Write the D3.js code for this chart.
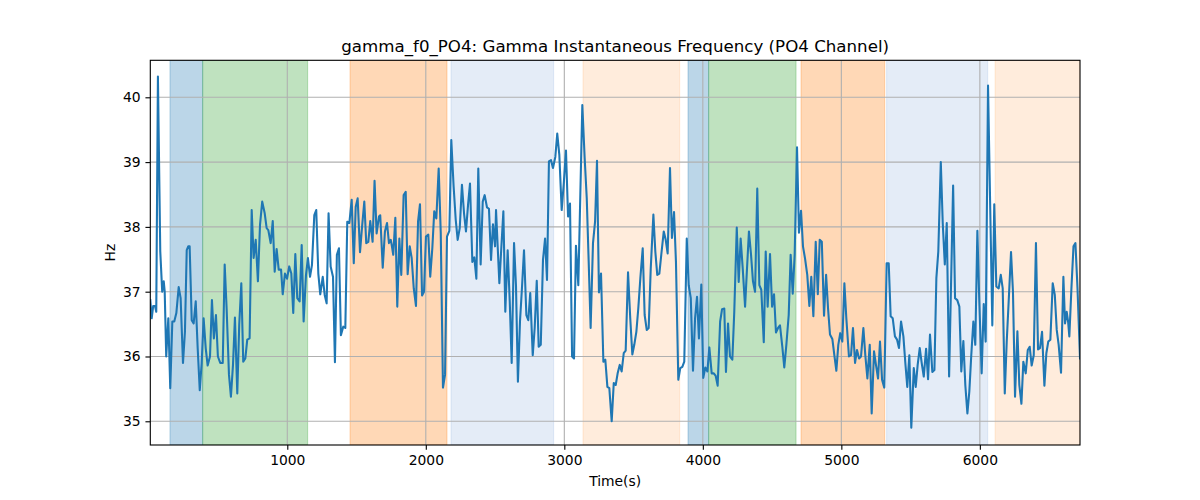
<!DOCTYPE html>
<html><head><meta charset="utf-8">
<script src="https://cdn.jsdelivr.net/npm/d3@7"></script>
<style>
body{margin:0;background:#fff;}
svg text{font-family:"DejaVu Sans",sans-serif;fill:#000;}
</style></head>
<body><svg id="c" width="1200" height="500"></svg>
<script>
const timeSec = [11,21,32,45,54,66,83,97,108,115,126,141,155,170,184,199,216,230,247,261,274,285,295,310,324,339,353,368,382,396,411,425,442,456,470,485,499,516,534,548,562,579,593,608,622,639,653,668,682,697,711,728,743,757,772,788,803,
819,837,851,863,880,895,909,923,938,955,967,983,998,1014,1029,1043,1058,1072,1089,1104,1118,1135,1149,1164,1178,1195,1209,1224,1238,1256,1270,1284,1298,1313,1330,1344,1358,1373,1387,1404,1419,1433,1448,1465,1480,1494,1508,1525,1539,1556,1570,1585,1599,1616,1630,1645,1662,
1671,1689,1705,1720,1734,1747,1754,1765,1780,1794,1809,1823,1840,1855,1869,1884,1898,1913,1929,1944,1958,1973,1987,2001,2018,2032,2047,2061,2076,2093,2108,2124,2139,2153,2170,2184,2201,2216,2230,2245,2261,2276,2290,2305,2319,2336,2350,2365,2379,2396,2411,2425,2442,2456,2471,2485,2500,
2507,2531,2545,2560,2574,2591,2606,2620,2637,2651,2665,2680,2694,2709,2726,2740,2754,2772,2786,2801,2815,2830,2846,2861,2875,2889,2904,2918,2935,2949,2964,2981,2996,3012,3027,3041,3056,3070,3084,3101,3130,3147,3162,3176,3190,3207,3222,3236,3250,3265,3282,3296,3311,3325,
3342,3357,3371,3385,3400,3414,3429,3443,3460,3476,3491,3505,3520,3534,3549,3566,3580,3595,3609,3624,3643,3657,3671,3686,3700,3718,3732,3746,3763,3777,3792,3806,3823,3837,3852,3866,3884,3898,3913,3929,3944,3958,3972,3989,4003,4018,4033,4047,4064,4079,4093,4107,4125,4139,4155,
4167,4182,4196,4213,4227,4245,4259,4273,4288,4305,4319,4333,4348,4362,4377,4393,4408,4422,4440,4454,4468,4485,4500,4514,4528,4543,4557,4574,4588,4603,4620,4634,4649,4663,4680,4694,4709,4723,4738,4754,4769,4783,4798,4815,4830,4844,4859,4875,4890,4904,4918,4935,4949,4964,4978,4992,
5007,5022,5036,5055,5070,5084,5099,5113,5128,5142,5159,5173,5188,5205,5219,5236,5250,5265,5279,5294,5310,5327,5342,5356,5371,5387,5402,5416,5431,5448,5462,5476,5491,5505,5523,5537,5551,5566,5580,5595,5612,5626,5640,5657,5672,5686,5700,5718,5732,5747,5761,5778,5807,5821,
5837,5852,5866,5881,5895,5910,5924,5938,5953,5967,5982,5996,6013,6028,6042,6059,6090,6104,6119,6136,6151,6165,6180,6194,6211,6225,6239,6254,6271,6285,6300,6314,6331,6346,6360,6374,6389,6405,6420,6434,6449,6466,6480,6494,6509,6526,6541,6555,6569,6586,6603,6615,6627,6637,6646,6661,6676,6690,6705,6723];

const gammaHz = [36.87,36.59,36.78,36.78,36.69,40.32,37.62,37.00,37.16,37.00,36.00,36.59,35.51,36.54,36.54,36.67,37.07,36.90,35.90,36.38,37.64,37.70,37.70,36.56,36.51,36.85,36.13,35.48,35.90,36.59,36.13,35.86,36.00,36.87,36.28,36.64,36.00,35.90,35.90,37.42,36.74,35.72,35.38,35.87,36.60,35.43,36.49,37.13,35.92,35.97,36.26,36.28,38.26,37.52,37.80,37.16,38.03,
38.39,38.21,37.98,37.95,37.75,38.09,37.31,37.66,37.34,37.34,36.96,37.28,37.20,37.39,37.28,36.67,37.58,36.90,36.85,37.72,36.54,37.26,37.52,37.23,37.41,38.18,38.26,37.28,36.96,37.23,36.95,36.82,38.21,37.39,37.23,35.91,37.57,37.67,36.33,36.46,36.44,38.08,38.06,38.42,37.44,38.31,38.44,37.61,37.98,38.39,37.75,37.77,38.09,37.77,38.71,37.90,38.16,
38.18,37.37,37.93,38.06,37.75,37.80,37.72,37.57,38.14,36.77,37.82,37.26,38.49,38.54,37.27,37.70,37.52,37.05,36.78,38.08,38.35,36.94,37.00,37.85,37.88,37.23,37.67,38.24,38.13,38.90,37.90,35.52,35.72,37.85,37.94,39.34,38.62,38.11,37.80,37.98,38.65,38.21,37.93,38.34,38.67,37.46,37.53,37.20,38.90,37.42,38.39,38.49,38.30,38.28,37.49,38.04,37.70,
38.26,37.13,37.67,38.24,36.69,37.64,36.85,35.90,37.75,37.10,35.61,36.54,37.05,37.64,36.64,36.56,36.98,36.02,36.44,37.17,36.15,36.18,37.49,37.82,37.18,39.01,39.03,38.91,39.08,39.44,39.11,38.26,38.67,39.18,38.16,38.36,36.00,35.97,37.71,37.10,39.88,39.06,38.44,37.46,36.44,37.75,38.08,39.02,36.99,37.28,35.92,35.95,35.53,35.51,
35.00,35.59,35.56,35.74,35.87,35.77,36.05,36.09,37.30,36.59,36.03,36.18,36.38,36.74,37.21,37.67,36.64,36.41,36.44,37.36,38.19,37.62,37.26,37.28,37.57,37.93,37.80,37.59,38.91,37.83,38.23,37.46,35.64,35.82,35.84,35.92,37.82,37.10,36.90,35.78,36.59,36.92,36.28,37.11,35.67,35.83,35.77,36.14,35.74,35.74,35.70,35.55,36.54,36.73,36.74,
35.76,36.51,36.00,35.95,36.69,37.99,37.15,37.82,37.36,36.77,37.36,37.93,37.57,37.16,37.00,38.59,37.10,37.03,36.22,37.62,36.77,37.58,36.77,36.96,36.37,36.44,36.48,36.15,35.83,36.18,36.64,37.57,36.97,37.57,39.23,37.91,38.25,37.70,37.51,37.26,36.78,37.23,36.62,37.77,36.96,37.80,37.77,36.63,37.26,36.74,36.34,36.27,36.03,35.78,36.18,36.36,
36.23,37.13,36.59,36.00,36.02,36.44,35.90,36.10,35.97,36.00,36.44,36.02,35.66,36.18,35.12,36.08,35.87,35.66,36.23,35.64,35.52,37.44,37.44,36.62,36.59,36.31,36.26,36.13,36.54,36.31,35.90,35.53,36.02,34.90,35.82,35.53,35.87,36.13,35.90,35.69,36.12,35.65,36.34,35.76,35.79,37.21,37.62,39.00,38.06,37.42,38.06,35.69,38.64,36.90,
36.87,36.77,35.77,36.24,35.56,35.12,35.46,36.02,36.54,36.18,37.94,36.85,35.74,36.81,36.23,40.18,36.48,38.35,37.08,37.05,37.26,37.05,35.43,36.23,36.98,37.61,37.00,35.38,36.39,35.56,35.27,35.92,35.74,36.10,36.15,35.86,36.02,37.75,36.11,36.13,36.38,35.55,36.05,36.23,36.26,37.13,36.95,36.41,36.18,35.75,37.23,36.51,36.69,36.54,36.31,37.05,37.70,37.75,37.05,35.97];

const spanStart = [153, 389, 1453, 2182, 3135, 3893, 4042, 4709, 5327, 6110];
const spanEnd   = [389, 1147, 2153, 2923, 3833, 4042, 4673, 5313, 6057, 6723];
const spanKind  = ["blue","green","orange","lightblue","lightorange","blue","green","orange","lightblue","lightorange"];

const xTicks = [1000, 2000, 3000, 4000, 5000, 6000];
const yTicks = [35, 36, 37, 38, 39, 40];
const titleText = "gamma_f0_PO4: Gamma Instantaneous Frequency (PO4 Channel)";
const xLabel = "Time(s)";
const yLabel = "Hz";

const spanColor = {
  blue: "rgba(31,119,180,0.3)",
  green: "rgba(44,160,44,0.3)",
  orange: "rgba(255,127,14,0.3)",
  lightblue: "rgba(120,160,215,0.2)",
  lightorange: "rgba(255,160,80,0.2)"
};

const PT = 100/72;
const L = 150.3, T = 60.3, R = 1080, B = 445;
const svg = d3.select("#c");
const x = d3.scaleLinear().domain([11, 6723]).range([L, R]);
const y = d3.scaleLinear().domain([34.634, 40.571]).range([B, T]);

svg.append("defs").append("clipPath").attr("id","clip")
  .append("rect").attr("x",L).attr("y",T).attr("width",R-L).attr("height",B-T);

const g = svg.append("g").attr("clip-path","url(#clip)");
const spans = spanStart.map((s,i)=>({s, e: spanEnd[i], k: spanKind[i]}));
g.selectAll("rect.span").data(spans).enter().append("rect")
  .attr("x", d=>x(d.s)).attr("width", d=>x(d.e)-x(d.s))
  .attr("y", T).attr("height", B-T)
  .attr("fill", d=>spanColor[d.k]).attr("stroke", d=>spanColor[d.k]).attr("stroke-width",1);

// grid
g.selectAll("line.gx").data(xTicks).enter().append("line")
  .attr("x1", d=>x(d)).attr("x2", d=>x(d)).attr("y1",T).attr("y2",B)
  .attr("stroke","#b0b0b0").attr("stroke-width",0.8*PT);
g.selectAll("line.gy").data(yTicks).enter().append("line")
  .attr("y1", d=>y(d)).attr("y2", d=>y(d)).attr("x1",L).attr("x2",R)
  .attr("stroke","#b0b0b0").attr("stroke-width",0.8*PT);

const pts = timeSec.map((t,i)=>[t, gammaHz[i]]);
g.append("path").datum(pts)
  .attr("d", d3.line().x(d=>x(d[0])).y(d=>y(d[1])))
  .attr("fill","none").attr("stroke","#1f77b4").attr("stroke-width",1.5*PT)
  .attr("stroke-linejoin","round").attr("stroke-linecap","square");

// frame
svg.append("rect").attr("x",L).attr("y",T).attr("width",R-L).attr("height",B-T)
  .attr("fill","none").attr("stroke","#000").attr("stroke-width",0.8*PT);

const xAxis = svg.append("g").attr("transform",`translate(0,${B})`)
  .call(d3.axisBottom(x).tickValues(xTicks).tickSize(3.5*PT).tickPadding(3.5*PT).tickFormat(d3.format("d")));
const yAxis = svg.append("g").attr("transform",`translate(${L},0)`)
  .call(d3.axisLeft(y).tickValues(yTicks).tickSize(3.5*PT).tickPadding(3.5*PT).tickFormat(d3.format("d")));
[xAxis, yAxis].forEach(a=>{
  a.select(".domain").remove();
  a.selectAll(".tick line").attr("stroke","#000").attr("stroke-width",0.8*PT);
  a.selectAll(".tick text").attr("font-size",10*PT).attr("font-family","DejaVu Sans").attr("fill","#000");
});

svg.append("text").attr("x",(L+R)/2).attr("y",T-8.3).attr("text-anchor","middle")
  .attr("font-size",12*PT).text(titleText);
svg.append("text").attr("x",(L+R)/2).attr("y",486).attr("text-anchor","middle")
  .attr("font-size",10*PT).text(xLabel);
svg.append("text").attr("transform",`translate(115,${(T+B)/2}) rotate(-90)`).attr("text-anchor","middle")
  .attr("font-size",10*PT).text(yLabel);
</script></body></html>
